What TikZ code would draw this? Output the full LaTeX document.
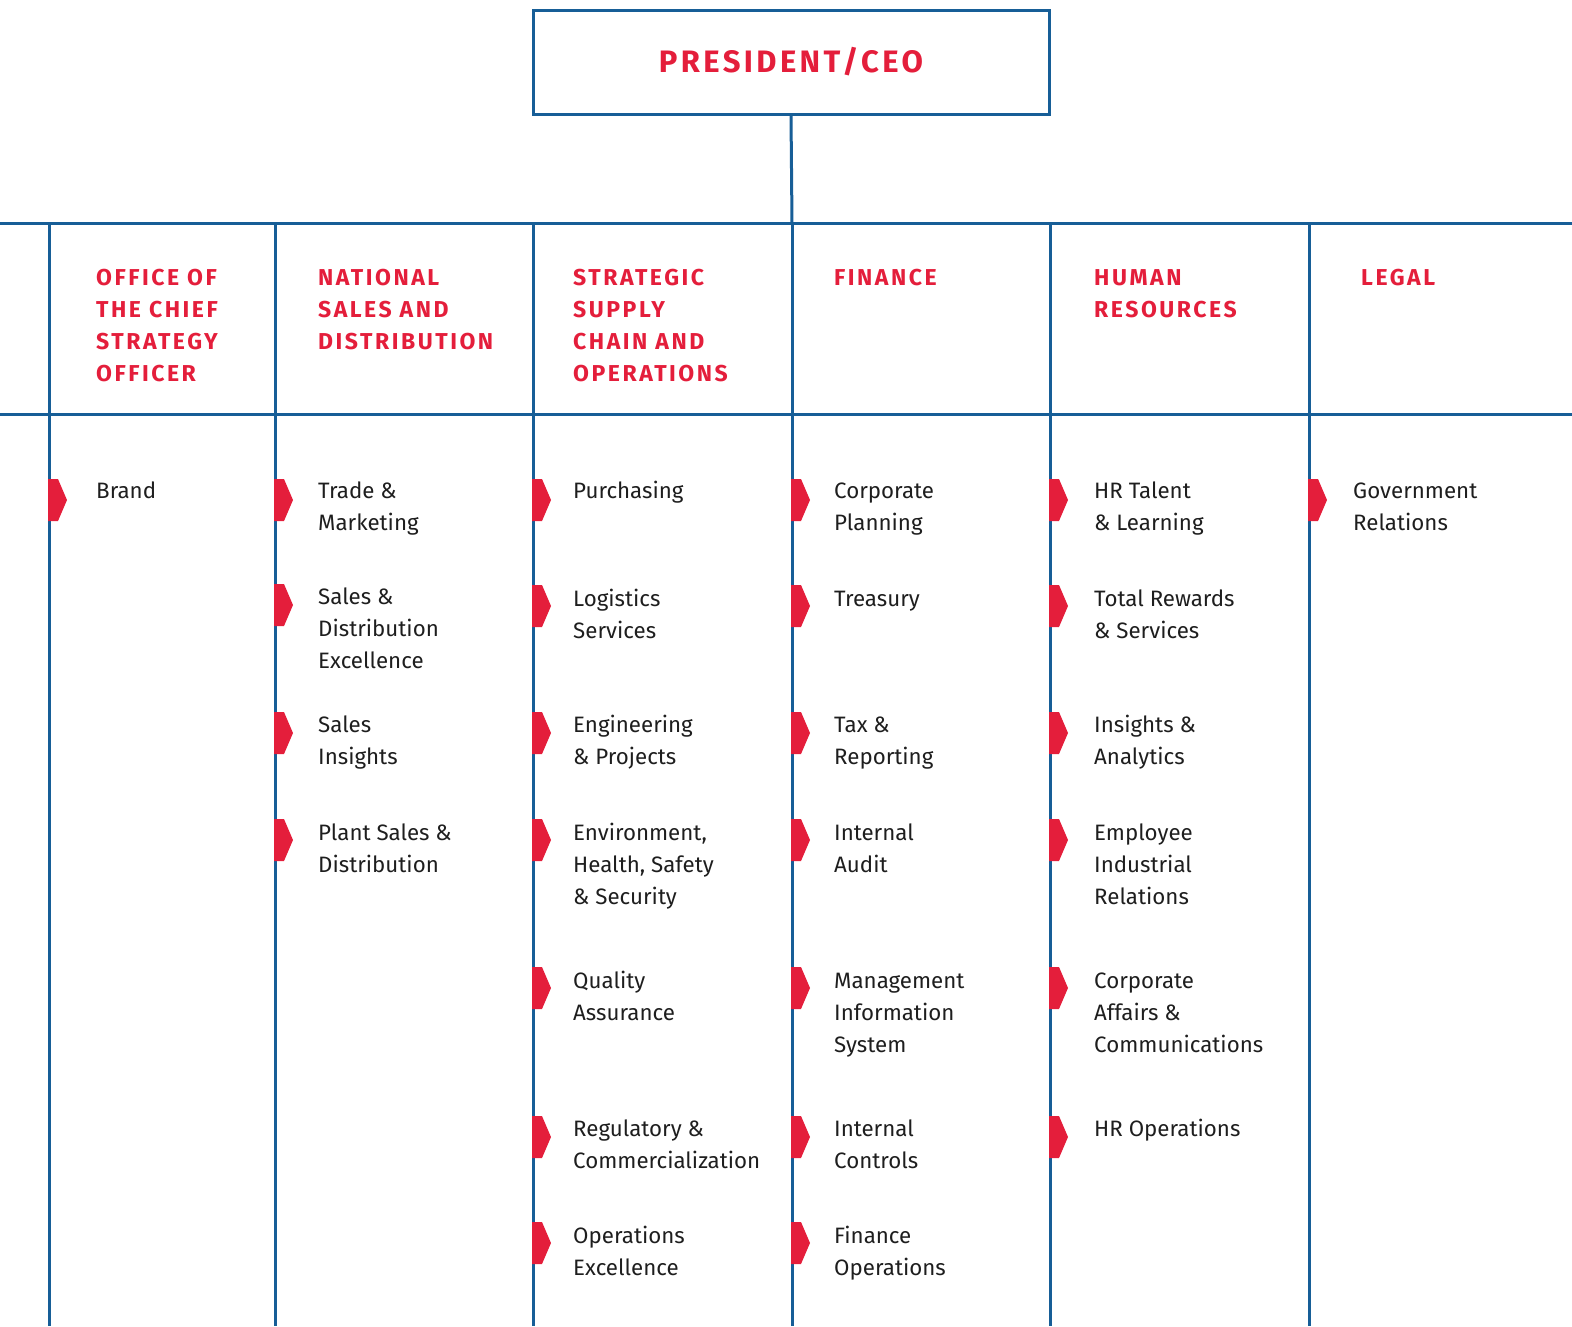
\documentclass[tikz,border=0pt]{standalone}
\usepackage{fontspec}
\setmainfont{Fira Sans}
\newfontfamily\headfont[LetterSpace=11]{Fira Sans}
\definecolor{orgblue}{HTML}{175E97}
\definecolor{orgred}{HTML}{E41E3B}
\definecolor{orgtext}{HTML}{1E1E1E}
\newcommand{\orgmark}[2]{\fill[orgred] (#1-1,#2-21) -- (#1+9,#2-21) -- (#1+18,#2) -- (#1+9,#2+21) -- (#1-1,#2+21) -- cycle;}
\tikzset{
  rule/.style={draw=orgblue, line width=3pt},
  ceobox/.style={draw=orgblue, line width=3pt, minimum width=516pt, minimum height=104pt, inner sep=0pt,
    text=orgred, font=\headfont\bfseries\fontsize{31}{36}\selectfont},
  head/.style={anchor=base west, align=left, inner sep=0pt, text=orgred,
    font=\headfont\bfseries\fontsize{23}{32}\selectfont},
  item/.style={anchor=base west, align=left, inner sep=0pt, text=orgtext,
    font=\fontsize{22.3}{32}\selectfont},
}
\begin{document}
\begin{tikzpicture}[x=1pt,y=-1pt]
\useasboundingbox (0,0) rectangle (1572,1326);

% top box and its link to the bus
\node[ceobox] (ceo) at (791,62) {PRESIDENT/CEO};
\coordinate (bus) at (792,223);
\draw[rule] (ceo.south) -- (bus);

% horizontal rules
\draw[rule] (0,223) -- (1572,223);
\draw[rule] (0,414) -- (1572,414);

% column rules
\foreach \x in {49,275,533,792,1050,1309}
  \draw[rule] (\x,223) -- (\x,1326);

% column headings (multi-line nodes sit on the baseline of their last line)
\node[head] (h1) at (96,381.5) {OFFICE OF\\THE CHIEF\\STRATEGY\\OFFICER};
\node[head] (h2) at (318,349.5) {NATIONAL\\SALES AND\\DISTRIBUTION};
\node[head] (h3) at (573,381.5) {STRATEGIC\\SUPPLY\\CHAIN AND\\OPERATIONS};
\node[head] (h4) at (834,285.5) {FINANCE};
\node[head] (h5) at (1094,317.5) {HUMAN\\RESOURCES};
\node[head] (h6) at (1361,285.5) {LEGAL};

% column 1
\orgmark{49}{500}
\node[item] (a1) at (96,498) {Brand};

% column 2
\orgmark{275}{500}
\node[item] (b1) at (318,530) {Trade \&\\Marketing};
\orgmark{275}{605}
\node[item] (b2) at (318,668) {Sales \&\\Distribution\\Excellence};
\orgmark{275}{733}
\node[item] (b3) at (318,764) {Sales\\Insights};
\orgmark{275}{840}
\node[item] (b4) at (318,872) {Plant Sales \&\\Distribution};

% column 3
\orgmark{533}{500}
\node[item] (c1) at (573,498) {Purchasing};
\orgmark{533}{606}
\node[item] (c2) at (573,638) {Logistics\\Services};
\orgmark{533}{733}
\node[item] (c3) at (573,764) {Engineering\\\& Projects};
\orgmark{533}{840}
\node[item] (c4) at (573,904) {Environment,\\Health, Safety\\\& Security};
\orgmark{533}{988}
\node[item] (c5) at (573,1020) {Quality\\Assurance};
\orgmark{533}{1137}
\node[item] (c6) at (573,1168) {Regulatory \&\\Commercialization};
\orgmark{533}{1243}
\node[item] (c7) at (573,1275) {Operations\\Excellence};

% column 4
\orgmark{792}{500}
\node[item] (d1) at (834,530) {Corporate\\Planning};
\orgmark{792}{606}
\node[item] (d2) at (834,606) {Treasury};
\orgmark{792}{733}
\node[item] (d3) at (834,764) {Tax \&\\Reporting};
\orgmark{792}{840}
\node[item] (d4) at (834,872) {Internal\\Audit};
\orgmark{792}{988}
\node[item] (d5) at (834,1052) {Management\\Information\\System};
\orgmark{792}{1137}
\node[item] (d6) at (834,1168) {Internal\\Controls};
\orgmark{792}{1243}
\node[item] (d7) at (834,1275) {Finance\\Operations};

% column 5
\orgmark{1050}{500}
\node[item] (e1) at (1094,530) {HR Talent\\\& Learning};
\orgmark{1050}{606}
\node[item] (e2) at (1094,638) {Total Rewards\\\& Services};
\orgmark{1050}{733}
\node[item] (e3) at (1094,764) {Insights \&\\Analytics};
\orgmark{1050}{840}
\node[item] (e4) at (1094,904) {Employee\\Industrial\\Relations};
\orgmark{1050}{988}
\node[item] (e5) at (1094,1052) {Corporate\\Affairs \&\\Communications};
\orgmark{1050}{1137}
\node[item] (e6) at (1094,1136) {HR Operations};

% column 6
\orgmark{1309}{500}
\node[item] (f1) at (1353,530) {Government\\Relations};
\end{tikzpicture}
\end{document}
